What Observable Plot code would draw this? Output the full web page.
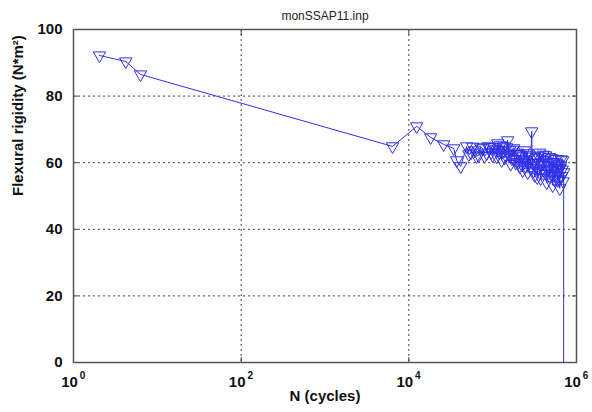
<!DOCTYPE html>
<html>
<head>
<meta charset="utf-8">
<script src="https://cdn.jsdelivr.net/npm/d3@7"></script>
<script src="https://cdn.jsdelivr.net/npm/@observablehq/plot@0.6"></script>
<style>
  html, body { margin: 0; padding: 0; background: #fff; }
</style>
</head>
<body>
<div id="chart"></div>
<script>
// Cycle counts (N) and flexural rigidity (N*m^2)
const cycles = [
  2.04, 4.2, 6.3, 6400, 12400, 18200, 26000, 34300, 37200, 41600,
  49000, 52000, 55000, 58000, 61000, 64000, 68000, 72000, 76000, 80000,
  85000, 88000, 91800, 96000, 100000, 104000, 108600, 112000, 115000, 118000,
  120000, 124000, 128000, 131000, 135000, 139000, 143000, 147000, 151000, 155000,
  159000, 164000, 169000, 173000, 178000, 183000, 188000, 193000, 199000, 204000,
  209000, 215000, 222000, 225000, 228000, 234000, 240000, 247000, 255000, 258000,
  262000, 269000, 276000, 284000, 292000, 296000, 300000, 308000, 317000, 326000,
  335000, 340000, 344000, 353000, 363000, 368000, 374000, 385000, 395000, 400000,
  406000, 418000, 429000, 435000, 441000, 453000, 466000, 472000, 479000, 492000,
  506000, 513000, 520000, 528000, 535000, 550000, 565000, 572000, 580000, 588000,
  597000, 605000, 614000, 622000, 631000, 639000, 647000, 657000, 666000, 675000,
  684000, 693000, 703000, 703000
];
const rigidity = [
  92.2, 90.4, 86.5, 64.9, 70.9, 67.6, 65.5, 64.3, 60.7, 58.9,
  64.9, 62.5, 63.0, 64.8, 63.7, 61.9, 62.2, 64.6, 64.3, 62.0,
  62.8, 64.9, 64.6, 63.1, 62.2, 64.7, 64.0, 61.8, 65.8, 63.9,
  63.0, 65.2, 60.7, 63.4, 64.9, 61.5, 62.2, 64.6, 66.7, 62.4,
  63.7, 59.6, 61.3, 63.9, 64.3, 61.0, 60.0, 62.6, 63.0, 60.2,
  58.9, 62.4, 61.9, 59.3, 57.7, 61.0, 63.7, 58.9, 60.7, 62.8,
  57.1, 59.8, 62.2, 58.4, 69.4, 61.8, 60.0, 57.6, 56.2, 59.9,
  61.3, 55.6, 58.3, 61.9, 63.0, 57.0, 55.3, 59.4, 60.0, 62.4,
  57.7, 60.8, 62.2, 56.6, 54.0, 58.0, 59.1, 61.7, 55.9, 57.6,
  61.3, 56.4, 53.2, 60.2, 58.3, 54.9, 56.2, 61.1, 60.0, 57.0,
  54.7, 59.5, 57.7, 55.0, 52.3, 58.4, 59.1, 61.0, 55.9, 57.9,
  60.7, 54.4, 57.1, 0
];
const xTicks = [1, 100, 10000, 1000000];
const xExponents = ["0", "2", "4", "6"];
const yTicks = [0, 20, 40, 60, 80, 100];
const yGrid = [20, 40, 60, 80];
const xGrid = [100, 10000];

const data = cycles.map((n, i) => ({n, v: rigidity[i]}));
const markData = data.slice(0, data.length - 1);
const xTickData = xTicks.map((t, i) => ({t, e: xExponents[i]}));

const blue = "#3030ea";
const font = "Liberation Sans, Arial, sans-serif";

const chart = Plot.plot({
  width: 592,
  height: 412,
  marginLeft: 73,
  marginRight: 16,
  marginTop: 29,
  marginBottom: 50,
  style: {fontFamily: font, background: "#fff"},
  x: {type: "log", domain: [1, 1000000]},
  y: {domain: [0, 100]},
  marks: [
    Plot.ruleX(xGrid, {stroke: "#444", strokeDasharray: "2,3", strokeWidth: 1}),
    Plot.ruleY(yGrid, {stroke: "#444", strokeDasharray: "2,3", strokeWidth: 1}),
    Plot.axisY({ticks: yTicks, tickSize: 0, tickPadding: 11, fontSize: 15, fontWeight: "bold", fill: "#111", label: null}),
    Plot.axisY({ticks: yTicks, anchor: "left", tickSize: -5, tickFormat: () => "", label: null, stroke: "#444"}),
    Plot.axisY({ticks: yTicks, anchor: "right", tickSize: -5, tickFormat: () => "", label: null, stroke: "#444"}),
    Plot.axisX({ticks: xTicks, anchor: "bottom", tickSize: -5, tickFormat: () => "", label: null, stroke: "#444"}),
    Plot.axisX({ticks: xTicks, anchor: "top", tickSize: -5, tickFormat: () => "", label: null, stroke: "#444"}),
    Plot.text(xTickData, {x: "t", y: 0, text: () => "10", dy: 20, dx: -4, fontSize: 15, fontWeight: "bold", fill: "#111"}),
    Plot.text(xTickData, {x: "t", y: 0, text: "e", dy: 13, dx: 9, fontSize: 10, fontWeight: "bold", fill: "#111"}),
    Plot.frame({stroke: "#555", strokeWidth: 1.5}),
    Plot.line(data, {x: "n", y: "v", stroke: blue, strokeWidth: 1}),
    Plot.dot(markData, {x: "n", y: "v", symbol: "triangle", rotate: 180, r: 4.6, stroke: blue, fill: "none", strokeWidth: 1}),
    Plot.text(["monSSAP11.inp"], {frameAnchor: "top", dy: -18, fontSize: 12, fill: "#222"}),
    Plot.text(["N (cycles)"], {frameAnchor: "bottom", dy: 38, fontSize: 15, fontWeight: "bold", fill: "#111"}),
    Plot.text(["Flexural rigidity (N*m²)"], {frameAnchor: "left", dx: -55, rotate: -90, fontSize: 15, fontWeight: "bold", fill: "#111"})
  ]
});
document.getElementById("chart").append(chart);
</script>
</body>
</html>
